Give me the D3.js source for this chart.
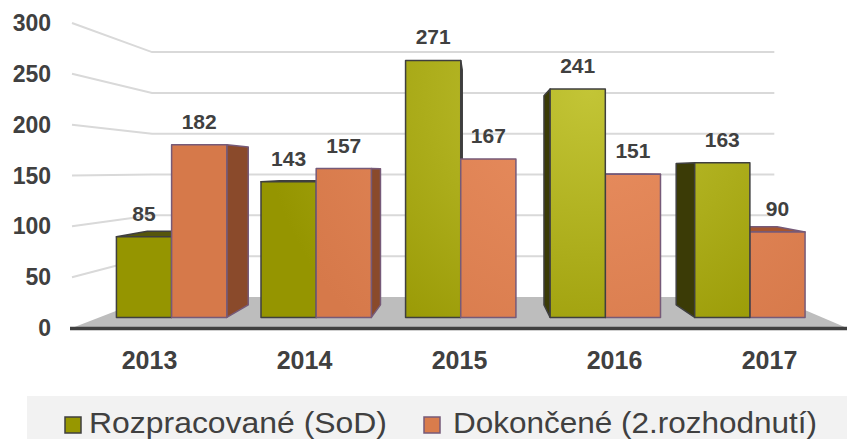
<!DOCTYPE html>
<html lang="cs">
<head>
<meta charset="UTF-8">
<title>Rozpracované a dokončené</title>
<script src="https://d3js.org/d3.v7.min.js"></script>
<style>
  body { margin: 0; background: #fff; }
  text { font-family: "Liberation Sans", Arial, sans-serif; fill: #404040; }
</style>
</head>
<body>
<svg id="chart" width="847" height="439"></svg>
<script>
// data
const years = ['2013', '2014', '2015', '2016', '2017'];
const rozpracovane = [85, 143, 271, 241, 163];
const dokoncene = [182, 157, 167, 151, 90];
const seriesNames = ['Rozpracované (SoD)', 'Dokončené (2.rozhodnutí)'];
const yTicks = [0, 50, 100, 150, 200, 250, 300];

const svg = d3.select('#chart');
const W = 847, H = 439;

// front plane scales, perspective squeezes everything toward (vx, vy)
const x = d3.scaleBand().domain(years).range([72, 847]);
const xs = d3.scaleBand().domain([0, 1]).range([0, x.bandwidth()]).paddingOuter(0.31);
const y = d3.scaleLinear().domain([0, 300]).range([328, 23]);

const vx = 478, vy = 170.6;
const kWall = 0.803, kFront = 0.9327, kBack = 0.853;
function proj(X, Y, k) { return [vx + (X - vx) * k, vy + (Y - vy) * k]; }

const defs = svg.append('defs');
function radial(id, c0, c1) {
  const g = defs.append('radialGradient').attr('id', id)
    .attr('gradientUnits', 'userSpaceOnUse')
    .attr('cx', 590).attr('cy', 90).attr('r', 330);
  g.append('stop').attr('offset', '0%').attr('stop-color', c0);
  g.append('stop').attr('offset', '100%').attr('stop-color', c1);
}
radial('gGreen', '#c3c536', '#959500');
radial('gOrange', '#ea8f61', '#d6794a');

const styles = [
  {front: 'url(#gGreen)', side: '#3b3b06', top: '#56560c', stroke: '#3f3f3f'},
  {front: 'url(#gOrange)', side: '#8a4a2b', top: '#a5552f', stroke: '#765a78'}
];

const X0 = x.range()[0], X1 = x.range()[1], Y0 = y(0);

// floor
svg.append('polygon')
  .attr('points', [[X0, Y0], [X1, Y0], proj(X1, Y0, kWall), proj(X0, Y0, kWall)].join(' '))
  .attr('fill', '#bdbdbd');

// grid lines: side wall + back wall
const grid = svg.append('g').attr('stroke', '#d9d9d9').attr('stroke-width', 2).attr('fill', 'none');
yTicks.filter(v => v > 0).forEach(v => {
  const a = proj(X0, y(v), kWall), b = proj(X1, y(v), kWall);
  grid.append('polyline').attr('points', [[X0, y(v)], a, b].join(' '));
});

// axis line
svg.append('line')
  .attr('x1', X0 - 2).attr('x2', W).attr('y1', Y0 + 0.5).attr('y2', Y0 + 0.5)
  .attr('stroke', '#404040').attr('stroke-width', 3.5);

// y labels
svg.append('g').selectAll('text').data(yTicks).join('text')
  .attr('x', 51).attr('y', d => y(d))
  .attr('text-anchor', 'end').attr('dominant-baseline', 'central')
  .attr('font-size', 23).attr('font-weight', 'bold')
  .text(d => d);

// category labels
svg.append('g').selectAll('text').data(years).join('text')
  .attr('x', d => x(d) + x.bandwidth() / 2).attr('y', 360)
  .attr('text-anchor', 'middle').attr('dominant-baseline', 'central')
  .attr('font-size', 25).attr('font-weight', 'bold')
  .text(d => d);

// bars
const bars = [];
years.forEach((yr, i) => {
  [rozpracovane[i], dokoncene[i]].forEach((v, j) => {
    const a = x(yr) + xs(j), b = a + xs.bandwidth();
    bars.push({v, j, a, b, mid: (a + b) / 2});
  });
});
bars.sort((p, q) => Math.abs(q.mid - vx) - Math.abs(p.mid - vx));

const gBars = svg.append('g').attr('stroke-width', 1.5).attr('stroke-linejoin', 'round');
bars.forEach(d => {
  const st = styles[d.j];
  const top = y(d.v);
  const faces = [];
  if (d.a > vx) faces.push({fill: st.side, pts: [proj(d.a, top, kFront), proj(d.a, top, kBack), proj(d.a, Y0, kBack), proj(d.a, Y0, kFront)]});
  if (d.b < vx) faces.push({fill: st.side, pts: [proj(d.b, top, kFront), proj(d.b, top, kBack), proj(d.b, Y0, kBack), proj(d.b, Y0, kFront)]});
  if (top > vy) faces.push({fill: st.top, pts: [proj(d.a, top, kFront), proj(d.b, top, kFront), proj(d.b, top, kBack), proj(d.a, top, kBack)]});
  faces.push({fill: st.front, pts: [proj(d.a, top, kFront), proj(d.b, top, kFront), proj(d.b, Y0, kFront), proj(d.a, Y0, kFront)]});
  faces.forEach(f => {
    gBars.append('polygon').attr('points', f.pts.join(' '))
      .attr('fill', f.fill).attr('stroke', st.stroke);
  });
});

// value labels
svg.append('g').selectAll('text').data(bars).join('text')
  .attr('x', d => proj(d.mid, 0, kFront)[0])
  .attr('y', d => proj(d.mid, y(d.v), kFront)[1] - 16)
  .attr('text-anchor', 'middle')
  .attr('font-size', 21).attr('font-weight', 'bold')
  .text(d => d.v);

// legend
const lg = svg.append('g');
lg.append('rect').attr('x', 27).attr('y', 396).attr('width', W - 27).attr('height', H - 396).attr('fill', '#f2f2f2');
const legendPos = [{m: 65, t: 89, len: 298}, {m: 424, t: 453, len: 364}];
seriesNames.forEach((name, j) => {
  lg.append('rect').attr('x', legendPos[j].m).attr('y', 417).attr('width', 16).attr('height', 16)
    .attr('fill', j ? '#d97c4c' : '#979700').attr('stroke', styles[j].stroke).attr('stroke-width', 1.5);
  lg.append('text').attr('x', legendPos[j].t).attr('y', 433)
    .attr('font-size', 29)
    .attr('textLength', legendPos[j].len).attr('lengthAdjust', 'spacingAndGlyphs')
    .text(name);
});
</script>
</body>
</html>
